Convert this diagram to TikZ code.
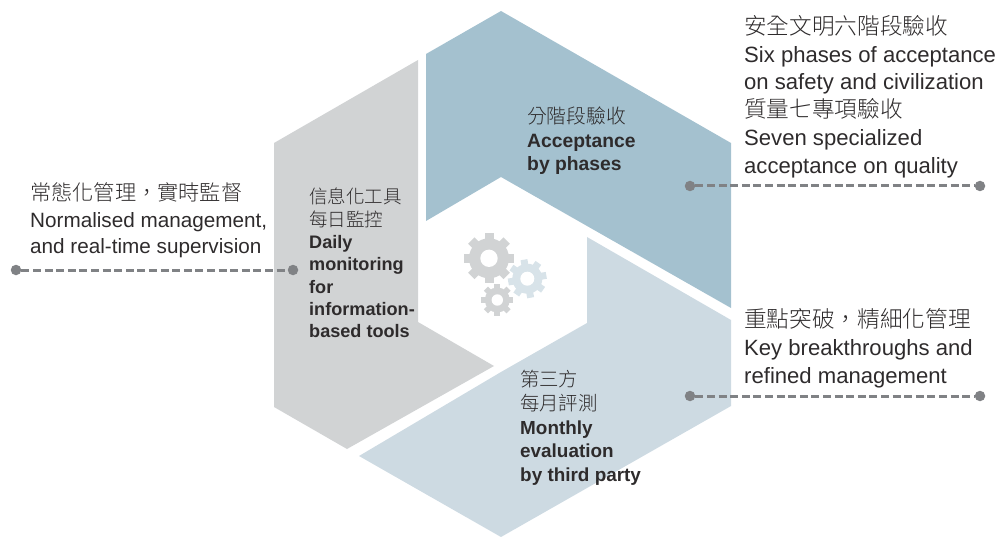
\documentclass[tikz,border=0pt]{standalone}
\usepackage{fontspec}
\setmainfont{Liberation Sans}
\newfontfamily\cjk{Noto Sans CJK TC}[UprightFont=* Light,Scale=1.025]
\definecolor{phaseblue}{HTML}{A4C1CF}
\definecolor{thirdblue}{HTML}{CDDAE2}
\definecolor{geargrey}{HTML}{D1D3D4}
\definecolor{gearblue}{HTML}{D8E3E9}
\definecolor{dailygrey}{HTML}{D1D3D4}
\definecolor{leadgrey}{HTML}{808285}
\definecolor{txt}{HTML}{2E2B2C}
\newcommand{\gearwheel}[7]{% x, y, body, tooth, hole, turn, colour
	\fill[#7] (#1,#2) circle (#3);
	\foreach \a in {0,45,...,315}
		\fill[#7,rotate around={\a+#6:(#1,#2)}] (#1+#3-2,#2-#4*0.18) rectangle (#1+#4,#2+#4*0.18);
	\fill[white] (#1,#2) circle (#5);
}
\tikzset{
	outer/.style 2 args={text=txt,align=left,anchor=north west,inner sep=0pt,font=\fontsize{#1}{#2}\selectfont},
	dot/.style={circle,fill=leadgrey,inner sep=0pt,minimum size=10.5pt},
	lead/.style={draw=leadgrey,line width=3pt,dash pattern=on 8pt off 3.6pt}
}
\begin{document}
\begin{tikzpicture}[x=1pt,y=-1pt]
	\useasboundingbox (0,0) rectangle (1000,537);
	% segments
	\fill[phaseblue] (426,54) -- (501,11) -- (731,143) -- (731,308) -- (501,177) -- (426,221) -- cycle;
	\fill[thirdblue] (587,237) -- (731,320) -- (731,406) -- (501,537) -- (359,456) -- (501,372) -- (587,323) -- cycle;
	\fill[dailygrey] (418,60) -- (274,143) -- (274,407) -- (347,449) -- (494,366) -- (418,322) -- cycle;
	% gears
	\gearwheel{489}{258.3}{20}{25}{8.7}{0}{geargrey}
	\gearwheel{527.3}{278.7}{15}{19.3}{7}{10}{gearblue}
	\gearwheel{497.3}{300}{12.5}{16}{5.7}{0}{geargrey}
	% labels in the segments
	\node[outer={19.3}{23.5}] (phases) at (527,107) {{\cjk 分階段驗收}\\\textbf{Acceptance}\\\textbf{by phases}};
	\node[outer={18.1}{22.3}] (daily) at (309,188) {{\cjk 信息化工具}\\{\cjk 每日監控}\\\textbf{Daily}\\\textbf{monitoring}\\\textbf{for}\\\textbf{information-}\\\textbf{based tools}};
	\node[outer={18.9}{23.6}] (third) at (520,370.5) {{\cjk 第三方}\\{\cjk 每月評測}\\\textbf{Monthly}\\\textbf{evaluation}\\\textbf{by third party}};
	% labels outside
	\node[outer={22.1}{27.8}] (safety) at (744,15) {{\cjk 安全文明六階段驗收}\\Six phases of acceptance\\on safety and civilization\\{\cjk 質量七專項驗收}\\Seven specialized\\acceptance on quality};
	\node[outer={22.1}{28}] (key) at (744,308) {{\cjk 重點突破，精細化管理}\\Key breakthroughs and\\refined management};
	\node[outer={20.7}{26.6}] (normal) at (30,182.5) {{\cjk 常態化管理，實時監督}\\Normalised management,\\and real-time supervision};
	% leaders
	\node[dot] (a1) at (690,186) {};
	\node[dot] (a2) at (980,186) {};
	\node[dot] (b1) at (690,396) {};
	\node[dot] (b2) at (980,396) {};
	\node[dot] (c1) at (16,270) {};
	\node[dot] (c2) at (293,270) {};
	\path[lead]
	(a1) edge (a2)
	(b1) edge (b2)
	(c1) edge (c2);
\end{tikzpicture}
\end{document}
